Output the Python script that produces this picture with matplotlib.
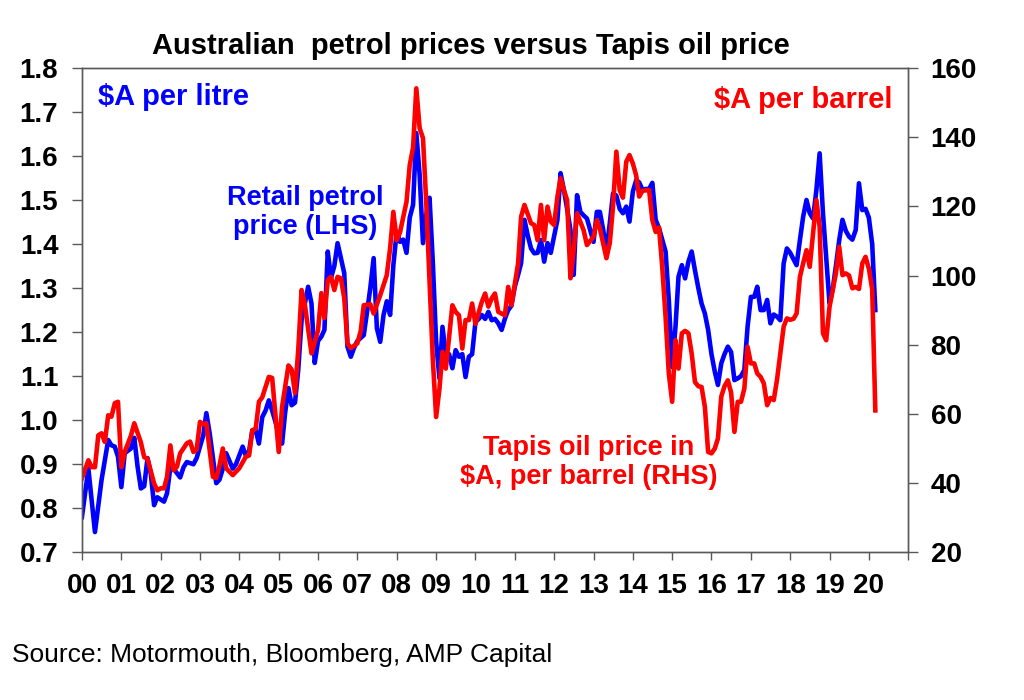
import matplotlib
matplotlib.use("Agg")
import matplotlib.pyplot as plt
import numpy as np
import pandas as pd

plt.rcParams['font.family'] = ['Liberation Sans', 'DejaVu Sans']

# monthly series from Jan 2000 (None = month not read off the chart)
start_month = "2000-01"

petrol_price = [
    0.78, None, 0.89, None, 0.746, None, 0.864, None, 0.955, 0.943, 0.94, 0.917,     # 2000
    0.848, 0.925, None, 0.936, 0.96, 0.894, 0.845, 0.85, 0.914, 0.879, 0.807, 0.825, # 2001
    None, 0.815, 0.834, 0.893, 0.89, None, 0.87, 0.893, 0.905, None, 0.9, 0.914,     # 2002
    None, 0.966, 1.016, 0.97, None, 0.857, 0.865, 0.89, 0.925, None, 0.89, 0.90,     # 2003
    None, 0.94, 0.92, 0.93, 0.977, 0.977, 0.947, 1.007, 1.022, 1.045, 1.022, None,   # 2004
    0.97, 0.947, 1.016, 1.073, 1.034, 1.04, 1.114, 1.227, None, 1.303, 1.265, 1.13,  # 2005
    1.18, 1.19, 1.205, 1.383, 1.323, 1.35, 1.402, None, 1.334, 1.167, 1.144, 1.164,  # 2006
    1.18, None, 1.193, 1.246, 1.30, 1.368, 1.209, 1.178, 1.239, 1.27, 1.239, 1.352,  # 2007
    1.428, 1.405, 1.41, 1.38, 1.46, 1.489, 1.652, 1.557, 1.402, 1.466, 1.505, 1.36,  # 2008
    1.178, 1.095, 1.212, 1.148, 1.15, 1.118, 1.159, 1.144, 1.15, 1.098, 1.144, 1.15, # 2009
    1.223, 1.23, 1.239, 1.23, 1.246, 1.227, 1.23, 1.22, 1.205, 1.23, 1.25, 1.26,     # 2010
    1.303, 1.33, 1.357, 1.455, 1.42, 1.39, 1.379, 1.38, 1.409, 1.36, 1.402, 1.38,    # 2011
    1.417, 1.455, 1.561, 1.523, 1.48, 1.432, 1.33, 1.511, 1.473, 1.465, 1.458, 1.432, # 2012
    1.405, 1.473, 1.473, 1.432, 1.383, 1.447, 1.515, 1.51, 1.48, 1.47, 1.485, 1.451, # 2013
    1.519, 1.545, 1.54, 1.523, 1.525, 1.525, 1.539, 1.455, 1.436, 1.41, 1.383, 1.273, # 2014
    1.121, 1.212, 1.326, 1.352, 1.322, 1.36, 1.383, 1.34, 1.30, 1.265, 1.242, 1.205, # 2015
    1.15, 1.11, 1.08, 1.129, 1.15, 1.167, 1.155, 1.091, 1.095, 1.10, 1.114, 1.212,   # 2016
    1.28, 1.28, 1.303, 1.25, 1.25, 1.273, 1.22, 1.24, 1.235, 1.227, 1.356, 1.39,     # 2017
    1.38, 1.365, 1.352, 1.409, 1.462, 1.50, 1.47, 1.458, 1.523, 1.606, 1.47, 1.37,   # 2018
    1.265, 1.30, 1.35, 1.409, 1.455, 1.43, 1.417, 1.41, 1.432, 1.538, 1.477, 1.48,   # 2019
    1.46, 1.40, 1.25,                                                                 # 2020
]

tapis_price = [
    41.4, None, 46.6, 44.6, 44.6, 53.8, 54.4, 51.9, 59.6, 59.2, 63.1, 63.5,          # 2000
    44.6, 49, None, 53.8, 57.3, None, 51.8, 47.5, 47, None, 39.9, 37.9,              # 2001
    38.5, 38.5, 41.8, 50.9, 43.7, 44.7, 48.6, None, 51.5, 52, 49, 49.7,              # 2002
    57.7, 57, 57.3, None, 41.8, 41.5, 45.1, 50, 44.3, None, 42.3, None,              # 2003
    44.3, None, 47.6, 48, 55.3, 55.7, 63.5, 64.8, None, 70.7, 70.4, None,            # 2004
    49, 62, None, 74, 72.8, 66, 78.4, 95.8, 91.5, None, 77.5, None,                  # 2005
    84.2, 94.9, 87.7, 98.7, 99.6, 95.8, 99.6, 99.2, 93.5, 80.4, 79, None,            # 2006
    80.4, 84, 91.4, None, 91.7, 89, None, 94.3, None, 100.1, 107.9, 118.4,           # 2007
    110.2, 112.5, None, 121.3, 131.9, 137, 154.1, 142.6, 139.7, 121.3, 98.2, 76,     # 2008
    59.1, 67.3, 77.9, 73.1, None, 91.4, 89.5, 88.5, 78.9, 87.1, 87.1, 91.9,          # 2009
    86, None, 92.4, 94.8, 91, 93.4, 94.8, 89.5, None, 88.5, 96.7, 91.4,              # 2010
    None, 103.5, 117, 120.4, None, 115.1, 114.6, 110.2, 120.4, 110.2, 119.9, 115.6,  # 2011
    114.6, 122.8, 128.1, 124.7, 121.8, 99.2, 107.3, 118, None, 113.1, 108.8, 110,    # 2012
    111.2, 116, 113.6, None, 105, 109.4, 119.9, 135.8, 124.7, 122.5, 132.9, 134.8,   # 2013
    132.4, 128.9, 122.8, 124.5, 124.6, 124.7, 116, 112.6, 113.9, 102.5, 88, 71.7,    # 2014
    63.5, 81.3, 73.1, 83.3, 84, 83.3, 77.5, 69.2, 68, 67.8, 62, 49,                  # 2015
    48.6, 50, 52.9, 65, 68, 69.7, 66.2, 54.8, 63.5, 63.5, 67.3, 79.4,                # 2016
    74.6, 74.6, 71.7, 70.7, 68.8, 62.5, 64.6, 64, 70, 77.5, 85.2, 87.6,              # 2017
    87.2, 87.5, 89, 99.6, 103.5, 107.3, 102.5, 112.2, 121.8, 114.1, 83.3, 81.3,      # 2018
    91, 96, 100.6, 108.3, 100.1, 100.6, 100, 96.3, 96.7, 96.1, 103.5, 105.4,         # 2019
    102, 96, 61,                                                                      # 2020
]

year_labels = ["%02d" % y for y in range(0, 21)] + [""]
left_ticks = [0.7, 0.8, 0.9, 1.0, 1.1, 1.2, 1.3, 1.4, 1.5, 1.6, 1.7, 1.8]
right_ticks = [20, 40, 60, 80, 100, 120, 140, 160]

blue = '#0000ff'
red = '#ff0000'
spine_col = '#595959'

petrol = pd.Series(petrol_price, dtype=float,
                   index=pd.date_range(start_month, periods=len(petrol_price), freq='MS')).dropna()
tapis = pd.Series(tapis_price, dtype=float,
                  index=pd.date_range(start_month, periods=len(tapis_price), freq='MS')).dropna()

fig = plt.figure(figsize=(10.24, 7.0), dpi=100)
ax = fig.add_axes([0.080, 0.211, 0.807, 0.692])
ax2 = ax.twinx()

ax.plot(petrol.index, petrol.values, color=blue, lw=3.3, solid_joinstyle='round')
ax2.plot(tapis.index, tapis.values, color=red, lw=3.3, solid_joinstyle='round')

ax.set_ylim(0.7, 1.8)
ax.set_yticks(left_ticks)
ax.set_yticklabels(["%.1f" % v for v in left_ticks])
ax2.set_ylim(20, 160)
ax2.set_yticks(right_ticks)

year_ticks = pd.date_range("2000-01-01", "2021-01-01", freq='YS')
ax.set_xlim(year_ticks[0], year_ticks[-1])
ax.set_xticks(year_ticks)
ax.set_xticklabels(year_labels)

for a in (ax, ax2):
    for s in a.spines.values():
        s.set_color(spine_col)
        s.set_linewidth(1.0)
ax.tick_params(axis='y', direction='out', length=7, width=1, color=spine_col, pad=10,
               labelsize=20)
ax.tick_params(axis='x', direction='out', length=6, width=1, color=spine_col, pad=9,
               labelsize=20)
ax2.tick_params(axis='y', direction='out', length=7, width=1, color=spine_col, pad=9,
                labelsize=20)
for lab in ax.get_xticklabels() + ax.get_yticklabels() + ax2.get_yticklabels():
    lab.set_fontweight('bold')

ax.text(0.019, 0.94, "$A per litre", transform=ax.transAxes, color=blue,
        fontsize=21, fontweight='bold', ha='left', va='center')
ax.text(0.981, 0.934, "$A per barrel", transform=ax.transAxes, color=red,
        fontsize=21, fontweight='bold', ha='right', va='center')
ax.text(0.270, 0.702, "Retail petrol\nprice (LHS)", transform=ax.transAxes, color=blue,
        fontsize=19.5, fontweight='bold', ha='center', va='center', linespacing=1.15)
ax2.text(0.613, 0.186, "Tapis oil price in\n$A, per barrel (RHS)", transform=ax.transAxes,
         color=red, fontsize=19.5, fontweight='bold', ha='center', va='center',
         linespacing=1.15)

fig.text(0.46, 0.934, "Australian  petrol prices versus Tapis oil price", ha='center',
         va='center', fontsize=21, fontweight='bold')
fig.text(0.0117, 0.064, "Source: Motormouth, Bloomberg, AMP Capital", ha='left',
         va='center', fontsize=19)

fig.savefig("out.png", dpi=100)
